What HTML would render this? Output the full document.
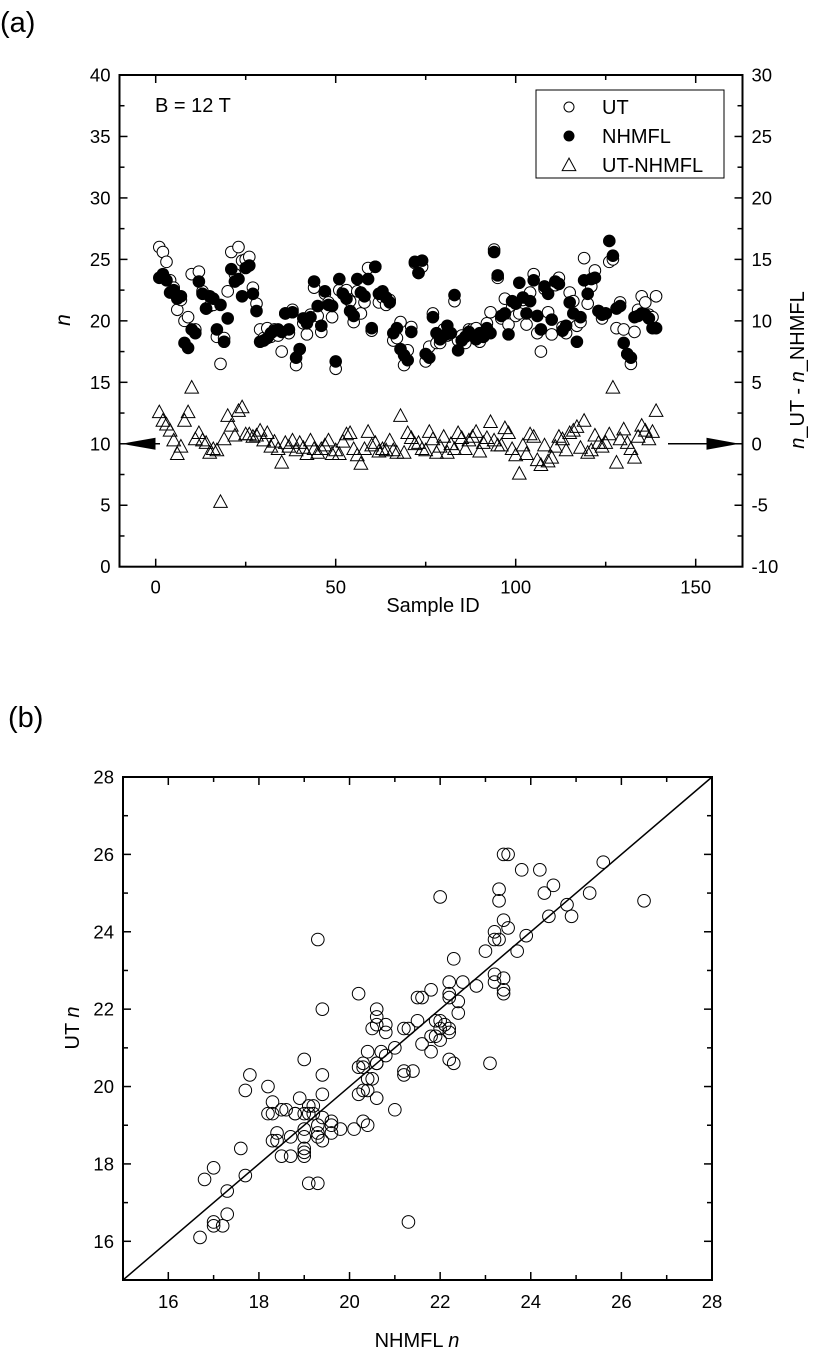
<!DOCTYPE html>
<html><head><meta charset="utf-8"><style>
body{margin:0;background:#fff}
svg text{font-family:"Liberation Sans",Arial,sans-serif;fill:#000}
</style></head><body>
<svg id="s" width="819" height="1362" viewBox="0 0 819 1362" xmlns="http://www.w3.org/2000/svg">
<text x="0" y="32" font-size="29">(a)</text>
<text x="8" y="727" font-size="29">(b)</text>
<g id="ga"></g>
<g id="gb"></g>
</svg>
<script>
const nhmfl=[23.5,23.8,23.3,22.3,22.5,21.8,22.0,18.2,17.8,19.3,19.0,23.2,22.2,21.0,22.0,21.8,19.3,21.3,18.3,20.2,24.2,23.2,23.4,22.0,24.3,24.5,22.2,20.8,18.3,18.4,18.6,19.0,19.2,19.3,19.1,20.6,19.3,20.7,17.0,17.7,20.2,19.8,20.3,23.2,21.2,19.6,22.4,21.3,21.2,16.7,23.4,22.2,21.8,20.8,20.4,23.4,22.3,22.0,23.4,19.4,24.4,22.2,22.4,21.9,21.5,19.0,19.4,17.7,17.2,16.8,19.1,24.8,23.9,24.9,17.3,17.0,20.3,19.0,18.5,18.8,19.6,19.0,22.1,17.6,18.4,18.7,19.1,18.8,18.5,19.0,18.7,19.4,19.0,25.6,23.7,20.4,20.6,18.9,21.6,21.4,23.1,21.9,20.6,21.6,23.3,20.4,19.3,22.8,22.2,20.1,23.2,23.0,19.2,19.6,21.5,20.6,18.3,20.3,23.3,22.2,23.4,23.5,20.8,20.5,20.6,26.5,25.3,21.0,21.2,18.2,17.3,17.0,20.3,20.4,20.6,20.5,20.2,19.4,19.4];
const ut=[26.0,25.6,24.8,23.3,22.7,20.9,21.7,20.0,20.3,23.8,19.3,24.0,22.4,21.0,21.2,21.3,18.7,16.5,18.6,22.4,25.6,23.8,26.0,24.9,25.0,25.2,22.7,21.4,19.3,18.6,19.4,18.7,19.3,18.8,17.5,20.6,19.0,20.9,16.4,17.7,19.8,18.9,20.5,22.7,20.4,19.1,22.2,21.5,20.3,16.1,22.5,22.3,22.5,21.6,19.9,22.4,20.6,21.5,24.3,19.2,24.4,21.5,21.9,21.3,21.7,18.4,18.6,19.9,16.4,17.6,19.5,24.7,23.9,24.4,16.7,17.9,20.6,18.2,18.2,19.3,18.8,18.9,21.6,18.4,18.8,18.2,19.3,19.3,19.4,18.3,18.7,19.8,20.7,25.8,23.5,20.2,21.8,19.7,21.1,20.4,20.6,21.7,19.7,22.3,23.8,19.0,17.5,22.6,20.7,18.9,22.9,23.5,19.5,19.0,22.3,21.6,19.6,19.9,25.1,21.4,22.8,24.1,20.8,20.2,20.6,24.8,25.0,19.4,21.5,19.3,17.3,16.5,19.1,20.9,22.0,21.5,20.5,20.3,22.0];
const diff=[2.5,1.8,1.5,1.0,0.2,-0.9,-0.3,1.8,2.5,4.5,0.3,0.8,0.2,0,-0.8,-0.5,-0.6,-4.8,0.3,2.2,1.4,0.6,2.6,2.9,0.7,0.7,0.5,0.6,1.0,0.2,0.8,-0.3,0.1,-0.5,-1.6,0.0,-0.3,0.2,-0.6,0.0,-0.4,-0.9,0.2,-0.5,-0.8,-0.5,-0.2,0.2,-0.9,-0.6,-0.9,0.1,0.7,0.8,-0.5,-1.0,-1.7,-0.5,0.9,-0.2,0.0,-0.7,-0.5,-0.6,0.2,-0.6,-0.8,2.2,-0.8,0.8,0.4,-0.1,0.0,-0.5,-0.6,0.9,0.3,-0.8,-0.3,0.5,-0.8,-0.1,-0.5,0.8,0.4,-0.5,0.2,0.5,0.9,-0.7,0.0,0.4,1.7,0.2,-0.2,-0.2,1.2,0.8,-0.5,-1.0,-2.5,-0.2,-0.9,0.7,0.5,-1.4,-1.8,-0.2,-1.5,-1.2,-0.3,0.5,0.3,-0.6,0.8,1.0,1.3,-0.4,1.8,-0.8,-0.6,0.6,0.0,-0.3,0.0,0.7,4.5,-1.6,0.3,1.1,0.0,-0.5,-1.2,0.5,1.4,1.0,0.3,0.9,2.6];
const xTicksA=[0,50,100,150];
const yTicksA=[0,5,10,15,20,25,30,35,40];
const yTicksA2=[-10,-5,0,5,10,15,20,25,30];
const ticksB=[16,18,20,22,24,26,28];

const NS="http://www.w3.org/2000/svg";
function mk(p,t,a){const e=document.createElementNS(NS,t);for(const k in a)e.setAttribute(k,a[k]);p.appendChild(e);return e;}
const ga=document.getElementById('ga');
const AL=119.5,AR=742.5,AT=75,AB=566.7;
const ax=v=>155.7+v*3.6, ay=v=>AB-(v/40)*(AB-AT), ay2=v=>ay(v+10);
let r=mk(ga,'rect',{x:AL,y:AT,width:AR-AL,height:AB-AT,fill:'none',stroke:'#000','stroke-width':2});

for(let v=-25;v<=175;v+=25){const x=ax(v);if(x<=AL||x>=AR)continue;const L=v%50===0?8:5;
 mk(ga,'line',{x1:x,y1:AB,x2:x,y2:AB-L,stroke:'#000','stroke-width':1.5});mk(ga,'line',{x1:x,y1:AT,x2:x,y2:AT+L,stroke:'#000','stroke-width':1.5});}
xTicksA.forEach(v=>{const t=mk(ga,'text',{x:ax(v),y:AB+27,'font-size':18.5,'text-anchor':'middle'});t.textContent=v;});
for(let v=0;v<=40;v+=2.5){const y=ay(v);const L=v%5===0?8:5;
 mk(ga,'line',{x1:AL,y1:y,x2:AL+L,y2:y,stroke:'#000','stroke-width':1.5});mk(ga,'line',{x1:AR,y1:y,x2:AR-L,y2:y,stroke:'#000','stroke-width':1.5});}
yTicksA.forEach(v=>{const t=mk(ga,'text',{x:AL-9,y:ay(v)+6.5,'font-size':18.5,'text-anchor':'end'});t.textContent=v;});
yTicksA2.forEach(v=>{const t=mk(ga,'text',{x:AR+9,y:ay2(v)+6.5,'font-size':18.5});t.textContent=v;});
let t=mk(ga,'text',{x:433,y:612,'font-size':20,'text-anchor':'middle'});t.textContent='Sample ID';
t=mk(ga,'text',{x:0,y:0,'font-size':21,'font-style':'italic','text-anchor':'middle',transform:'translate(70,320) rotate(-90)'});t.textContent='n';
t=mk(ga,'text',{x:0,y:0,'font-size':20,'text-anchor':'middle',transform:'translate(804,370) rotate(-90)'});t.innerHTML='<tspan font-style="italic">n</tspan>_UT - <tspan font-style="italic">n</tspan>_NHMFL';
t=mk(ga,'text',{x:155,y:112,'font-size':20});t.textContent='B = 12 T';
mk(ga,'line',{x1:125,y1:ay(10),x2:160,y2:ay(10),stroke:'#000','stroke-width':1.5});
mk(ga,'polygon',{points:`${AL+2},${ay(10)} ${AL+36},${ay(10)-6} ${AL+36},${ay(10)+6}`,fill:'#000'});
mk(ga,'line',{x1:668,y1:ay2(0),x2:708,y2:ay2(0),stroke:'#000','stroke-width':1.5});
mk(ga,'polygon',{points:`${AR-3},${ay2(0)} ${AR-36},${ay2(0)-6} ${AR-36},${ay2(0)+6}`,fill:'#000'});
const tri=(x,y,s)=>`${x},${y-s*0.72} ${x-s*0.62},${y+s*0.42} ${x+s*0.62},${y+s*0.42}`;
diff.forEach((v,i)=>{const p=mk(ga,'polygon',{points:tri(ax(i+1),ay2(v),11),fill:'none',stroke:'#000','stroke-width':1});
});
ut.forEach((v,i)=>{const c=mk(ga,'circle',{cx:ax(i+1),cy:ay(v),r:5.8,fill:'#fff',stroke:'#000','stroke-width':1});
});
nhmfl.forEach((v,i)=>{const c=mk(ga,'circle',{cx:ax(i+1),cy:ay(v),r:5.8,fill:'#000',stroke:'#000','stroke-width':1});
});
const lg=mk(ga,'g',{});
mk(lg,'rect',{x:536,y:90,width:188,height:88,fill:'#fff',stroke:'#000','stroke-width':1});
mk(lg,'circle',{cx:569,cy:107,r:5,fill:'#fff',stroke:'#000'});
mk(lg,'circle',{cx:569,cy:136,r:5,fill:'#000',stroke:'#000'});
mk(lg,'polygon',{points:tri(569,166,11),fill:'none',stroke:'#000'});
[['UT',107],['NHMFL',136],['UT-NHMFL',165]].forEach(([s,y])=>{const e=mk(lg,'text',{x:602,y:y+7,'font-size':20});e.textContent=s;});
const gb=document.getElementById('gb');
const BL=123,BR=712,BT=777,BB=1280;
const bx=v=>BL+(v-15)*(BR-BL)/13, by=v=>BB-(v-15)*(BB-BT)/13;
r=mk(gb,'rect',{x:BL,y:BT,width:BR-BL,height:BB-BT,fill:'none',stroke:'#000','stroke-width':2});

for(let v=16;v<28;v++){const L=v%2===0?8:5;
 mk(gb,'line',{x1:bx(v),y1:BB,x2:bx(v),y2:BB-L,stroke:'#000','stroke-width':1.5});mk(gb,'line',{x1:bx(v),y1:BT,x2:bx(v),y2:BT+L,stroke:'#000','stroke-width':1.5});
 mk(gb,'line',{x1:BL,y1:by(v),x2:BL+L,y2:by(v),stroke:'#000','stroke-width':1.5});mk(gb,'line',{x1:BR,y1:by(v),x2:BR-L,y2:by(v),stroke:'#000','stroke-width':1.5});}
ticksB.forEach(v=>{let e=mk(gb,'text',{x:bx(v),y:BB+28,'font-size':18.5,'text-anchor':'middle'});e.textContent=v;
 e=mk(gb,'text',{x:BL-9,y:by(v)+6.5,'font-size':18.5,'text-anchor':'end'});e.textContent=v;});
const dl=mk(gb,'line',{x1:bx(15),y1:by(15),x2:bx(28),y2:by(28),stroke:'#000','stroke-width':1.5});

nhmfl.forEach((v,i)=>{const c=mk(gb,'circle',{cx:bx(v),cy:by(ut[i]),r:6.3,fill:'none',stroke:'#000','stroke-width':1});
});
t=mk(gb,'text',{x:417,y:1347,'font-size':20,'text-anchor':'middle'});t.innerHTML='NHMFL <tspan font-style="italic">n</tspan>';
t=mk(gb,'text',{x:0,y:0,'font-size':20,'text-anchor':'middle',transform:'translate(79,1028) rotate(-90)'});t.innerHTML='UT <tspan font-style="italic">n</tspan>';
</script>
</body></html>
